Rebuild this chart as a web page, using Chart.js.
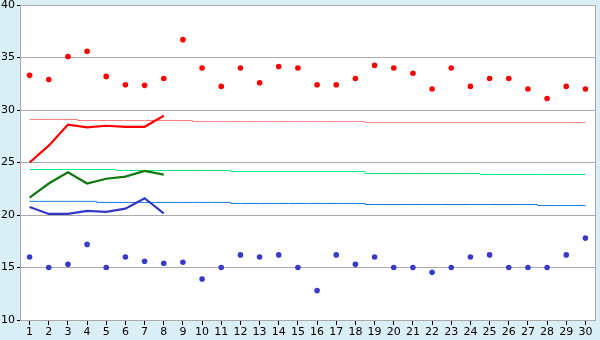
<!DOCTYPE html>
<html>
<head>
<meta charset="utf-8">
<script src="https://cdn.jsdelivr.net/npm/chart.js@4/dist/chart.umd.min.js"></script>
<style>
html,body{margin:0;padding:0;background:#D9EEF5;}
#wrap{width:600px;height:340px;position:relative;}
</style>
</head>
<body>
<div id="wrap"><canvas id="c" width="600" height="340"></canvas></div>
<script>
// ---- data ----
const days = ['1','2','3','4','5','6','7','8','9','10','11','12','13','14','15','16','17','18','19','20','21','22','23','24','25','26','27','28','29','30'];
const maxPoints = [33.3,32.9,35.1,35.6,33.2,32.4,32.35,33.0,36.7,34.0,32.25,34.0,32.6,34.15,34.0,32.4,32.4,33.0,34.25,34.0,33.5,32.0,34.0,32.25,33.0,33.0,32.0,31.1,32.25,32.0];
const minPoints = [16.0,15.0,15.3,17.2,15.0,16.0,15.6,15.4,15.5,13.9,15.0,16.2,16.0,16.2,15.0,12.8,16.2,15.3,16.0,15.0,15.0,14.55,15.0,16.0,16.2,15.0,15.0,15.0,16.2,17.8];
const maxLine = [25.0,26.6,28.6,28.35,28.5,28.4,28.4,29.45,null,null,null,null,null,null,null,null,null,null,null,null,null,null,null,null,null,null,null,null,null,null];
const meanLine = [21.65,23.0,24.07,23.0,23.45,23.65,24.2,23.85,null,null,null,null,null,null,null,null,null,null,null,null,null,null,null,null,null,null,null,null,null,null];
const minLine = [20.76,20.1,20.1,20.4,20.3,20.6,21.6,20.15,null,null,null,null,null,null,null,null,null,null,null,null,null,null,null,null,null,null,null,null,null,null];
const normalMax = [29.1,29.1,29.1,29.0,29.0,29.0,29.0,29.0,29.0,28.9,28.9,28.9,28.9,28.9,28.9,28.9,28.9,28.9,28.8,28.8,28.8,28.8,28.8,28.8,28.8,28.8,28.8,28.8,28.8,28.8];
const normalMean = [24.33,24.33,24.33,24.33,24.33,24.24,24.24,24.24,24.24,24.24,24.24,24.14,24.14,24.14,24.14,24.14,24.14,24.14,23.95,23.95,23.95,23.95,23.95,23.95,23.86,23.86,23.86,23.86,23.86,23.86];
const normalMin = [21.3,21.3,21.3,21.3,21.2,21.2,21.2,21.2,21.2,21.2,21.2,21.1,21.1,21.1,21.1,21.1,21.1,21.1,21.0,21.0,21.0,21.0,21.0,21.0,21.0,21.0,21.0,20.9,20.9,20.9];
const yTicks = [10,15,20,25,30,35,40];

const bgPlugin = {
  id:'bg',
  beforeDraw(chart){
    const {ctx, chartArea:a} = chart;
    ctx.save();
    ctx.fillStyle = '#D9EEF5';
    ctx.fillRect(0,0,chart.width,chart.height);
    ctx.fillStyle = '#FFFFFF';
    ctx.fillRect(a.left,a.top,a.right-a.left,a.bottom-a.top);
    ctx.restore();
  },
  afterDatasetsDraw(chart){
    const {ctx, chartArea:a} = chart;
    ctx.save();
    ctx.strokeStyle = '#AAAAAA';
    ctx.lineWidth = 1;
    ctx.beginPath();
    ctx.moveTo(Math.round(a.right)+0.5, a.top);
    ctx.lineTo(Math.round(a.right)+0.5, a.bottom);
    ctx.stroke();
    ctx.restore();
  }
};

const font = {family:'"DejaVu Sans", Verdana, sans-serif', size:11};

new Chart(document.getElementById('c'), {
  type:'line',
  data:{
    labels: days,
    datasets:[
      {data:normalMax, borderColor:'#FF7B7B', borderWidth:1, pointRadius:0, stepped:'middle', order:10},
      {data:normalMean, borderColor:'#00EE77', borderWidth:1, pointRadius:0, stepped:'middle', order:10},
      {data:normalMin, borderColor:'#1A75E8', borderWidth:1, pointRadius:0, stepped:'middle', order:10},
      {data:maxLine, borderColor:'#FF0000', borderWidth:2.2, pointRadius:0, order:5},
      {data:meanLine, borderColor:'#117711', borderWidth:2.2, pointRadius:0, order:5},
      {data:minLine, borderColor:'#3535C8', borderWidth:2.2, pointRadius:0, order:5},
      {data:maxPoints, showLine:false, pointStyle:'circle', pointRadius:2.8, pointBackgroundColor:'#FF0000', pointBorderWidth:0, borderColor:'#FF0000', order:1},
      {data:minPoints, showLine:false, pointStyle:'circle', pointRadius:2.8, pointBackgroundColor:'#3A3AC8', pointBorderWidth:0, borderColor:'#3A3AC8', order:1}
    ]
  },
  options:{
    responsive:false,
    animation:false,
    devicePixelRatio:1,
    layout:{padding:{top:5,right:5,left:0,bottom:0}},
    plugins:{legend:{display:false}, tooltip:{enabled:false}},
    elements:{line:{tension:0}},
    scales:{
      x:{
        offset:true,
        grid:{drawOnChartArea:false, tickLength:5, tickColor:'#000000', offset:false},
        border:{color:'#AAAAAA'},
        ticks:{color:'#000000', font:font, padding:1, maxRotation:0, autoSkip:false},
        afterFit(s){ s.height = 20; s.paddingLeft=0; s.paddingRight=0; }
      },
      y:{
        min:10, max:40,
        afterBuildTicks(s){ s.ticks = yTicks.map(v=>({value:v})); },
        grid:{color:'#AAAAAA', tickLength:3, tickColor:'#000000'},
        border:{color:'#AAAAAA'},
        ticks:{color:'#000000', font:font, padding:2},
        afterFit(s){ s.width = 20; s.paddingTop=0; s.paddingBottom=0; }
      }
    }
  },
  plugins:[bgPlugin]
});
</script>
</body>
</html>
